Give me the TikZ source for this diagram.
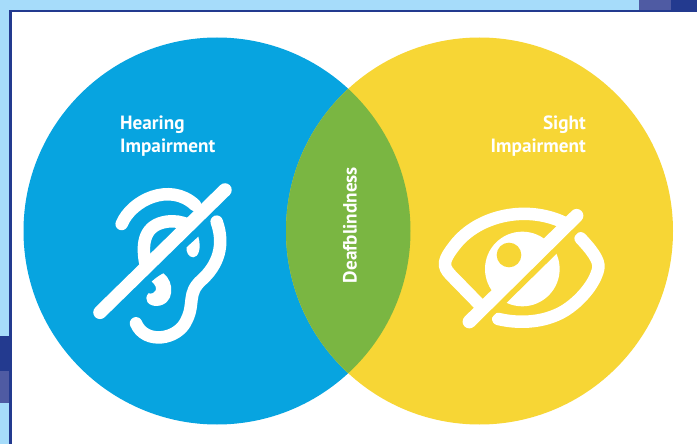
\documentclass[tikz,border=0pt]{standalone}
\usepackage{fontspec}
\setmainfont{PT Sans}
\usetikzlibrary{positioning}
\definecolor{pagesky}{HTML}{A6DCFA}
\definecolor{pagenavy}{HTML}{233A8F}
\definecolor{pagemid}{HTML}{4F5BA3}
\definecolor{hearblue}{HTML}{07A4E0}
\definecolor{sightyellow}{HTML}{F7D635}
\definecolor{lensgreen}{HTML}{7AB642}
\tikzset{
	x=1pt, y=-1pt,
	disc/.style={circle, inner sep=0pt, minimum size=387pt}, % the two big circles
	caption/.style={text=white, font=\bfseries\fontsize{19.2}{23}\selectfont}, % white labels
	icon/.style={draw=white, line width=12.5pt, line cap=round, line join=round}, % white strokes
	slash/.style={line width=13.5pt, line cap=round}, % the bar over each icon
}
\begin{document}
\begin{tikzpicture}
	\useasboundingbox (0,0) rectangle (697,444);
	% page behind the panel
	\fill[pagesky] (0,0) rectangle (697,444);
	\fill[pagemid] (639,0) rectangle (671,10);
	\fill[pagenavy] (671,0) rectangle (697,10);
	\fill[pagenavy] (0,336) rectangle (9,371);
	\fill[pagemid] (0,371) rectangle (9,403);
	\fill[pagenavy] (9,10) rectangle (697,444);
	\fill[white] (12,12.5) rectangle (697,444);
	% circles
	\node[disc, fill=hearblue] (hearing) at (217,231) {};
	\node[disc, fill=sightyellow] (sight) at (479.5,231) {};
	\begin{scope}
		\clip (217,231) circle[radius=193.5];
		\fill[lensgreen] (479.5,231) circle[radius=193.5];
	\end{scope}
	% labels
	\node[caption, align=left, anchor=north west, inner sep=0pt] (hearingtext) at (120,116) {Hearing\\Impairment};
	\node[caption, align=right, anchor=north east, inner sep=0pt] (sighttext) at (586,116) {Sight\\Impairment};
	\node[caption, rotate=90, inner sep=0pt] (bothtext) at (350,225) {Deafblindness};
	% ear, in zoomed crop coordinates
	\begin{scope}[shift={(80,170)}, x=.3333pt, y=-.3333pt]
		\draw[icon] (125,162) .. controls (155,90) and (270,35) .. (345,105);
		\draw[icon] (195,275) .. controls (185,215) and (195,165) .. (260,155) .. controls (285,152) and (305,155) .. (325,165);
		\draw[icon] (410,155) .. controls (435,225) and (415,285) .. (365,330) .. controls (320,370) and (345,400) .. (320,450) .. controls (295,510) and (195,525) .. (168,460);
		\fill[white] (250,310) .. controls (285,335) and (285,405) .. (230,408) .. controls (205,408) and (190,390) .. (205,370) .. controls (225,375) and (240,355) .. (215,335) .. controls (225,325) and (240,315) .. (250,310) -- cycle;
		\fill[white] (355,200) .. controls (365,235) and (355,262) .. (340,262) .. controls (325,262) and (318,245) .. (320,232) -- cycle;
		\draw[hearblue, slash, line width=8pt, line cap=butt] (60,447) -- (447,75);
		\draw[white, slash] (60,427) -- (435,60);
	\end{scope}
	% eye, in zoomed crop coordinates
	\begin{scope}[shift={(430,195)}, x=.3333pt, y=-.3333pt]
		\fill[white] (277,222) circle[radius=112];
		\fill[sightyellow] (237,180) circle[radius=37];
		\draw[icon] (145,325) -- (62,240) .. controls (35,212) and (40,195) .. (75,150) .. controls (145,60) and (290,30) .. (400,82);
		\draw[icon] (452,130) .. controls (480,160) and (510,195) .. (505,220) .. controls (495,270) and (440,330) .. (390,355) .. controls (330,385) and (260,385) .. (205,372);
		\draw[sightyellow, slash, line width=8pt, line cap=butt] (170,365) -- (445,95);
		\draw[white, slash] (118,380) -- (440,62);
	\end{scope}
\end{tikzpicture}
\end{document}
